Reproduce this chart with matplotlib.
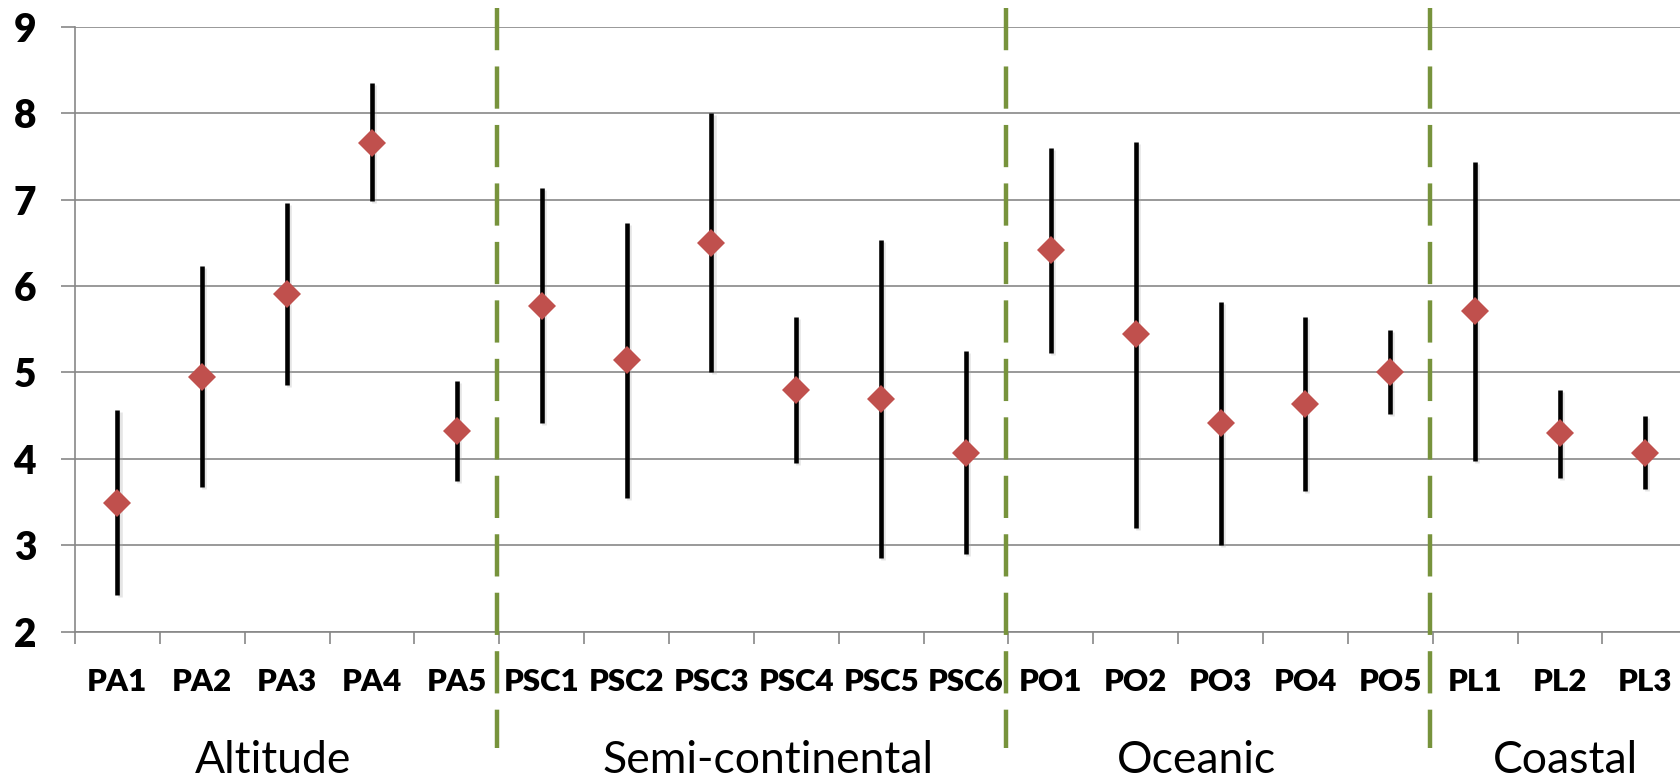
import matplotlib
matplotlib.use('Agg')
import matplotlib.pyplot as plt
import matplotlib.patheffects as pe
from matplotlib.transforms import blended_transform_factory

plt.rcParams['font.family'] = ['Lato', 'DejaVu Sans']
plt.rcParams['lines.scale_dashes'] = False

# stations, grouped by climate zone
stations = ['PA1', 'PA2', 'PA3', 'PA4', 'PA5',
            'PSC1', 'PSC2', 'PSC3', 'PSC4', 'PSC5', 'PSC6',
            'PO1', 'PO2', 'PO3', 'PO4', 'PO5',
            'PL1', 'PL2', 'PL3']
groups = ['Altitude', 'Semi-continental', 'Oceanic', 'Coastal']
group_sizes = [5, 6, 5, 3]

# mean value and min/max range per station
mean_vals = [3.49, 4.95, 5.91, 7.66, 4.32,
             5.77, 5.14, 6.50, 4.80, 4.69, 4.07,
             6.42, 5.44, 4.41, 4.64, 5.00,
             5.71, 4.30, 4.07]
low_vals = [2.42, 3.67, 4.86, 6.98, 3.74,
            4.41, 3.55, 5.01, 3.95, 2.85, 2.90,
            5.23, 3.20, 3.00, 3.63, 4.52,
            3.98, 3.78, 3.65]
high_vals = [4.57, 6.23, 6.96, 8.35, 4.90,
             7.13, 6.73, 8.00, 5.64, 6.53, 5.25,
             7.60, 7.67, 5.82, 5.64, 5.49,
             7.44, 4.80, 4.50]

grey = '#878787'

fig = plt.figure(figsize=(16.81, 7.78), dpi=100)
ax = fig.add_axes([0.04462, 0.18805, 0.9591, 0.7776])

x = list(range(len(stations)))
yerr = [[m - lo for m, lo in zip(mean_vals, low_vals)],
        [hi - m for m, hi in zip(mean_vals, high_vals)]]
markers, caps, bars = ax.errorbar(x, mean_vals, yerr=yerr, fmt='D', color='#c0504d',
                                  markersize=14.2, markeredgewidth=0,
                                  ecolor='black', elinewidth=3.3, capsize=0, zorder=3)
for b in bars:
    b.set_capstyle('butt')
    b.set_path_effects([pe.SimpleLineShadow(offset=(1.5, -1.5), shadow_color='#aaaaaa', alpha=0.3),
                        pe.Normal()])

ax.set_xlim(-0.5, len(stations) - 0.5)
ax.set_ylim(2, 9)
ax.set_yticks(range(2, 10))
ax.yaxis.grid(True, color=grey, lw=1.2)
ax.set_axisbelow(True)

for side in ['top', 'right']:
    ax.spines[side].set_visible(False)
for side in ['left', 'bottom']:
    ax.spines[side].set_color(grey)
    ax.spines[side].set_linewidth(1.2)

# labels sit at the centres, tick marks at the boundaries
ax.set_xticks(x)
ax.set_xticklabels(stations, fontsize=22.5, fontweight='heavy')
ax.set_xticks([i - 0.5 for i in range(len(stations) + 1)], minor=True)
ax.tick_params(axis='x', which='major', length=0, pad=26)
ax.tick_params(axis='x', which='minor', length=8.6, width=1.2, color=grey, direction='out')
ax.tick_params(axis='y', length=10, width=1.2, color=grey, pad=18, labelsize=28)
for lab in ax.get_yticklabels():
    lab.set_fontweight('heavy')

# dashed separators between climate zones
trans = blended_transform_factory(ax.transData, ax.transAxes)
edges = []
total = 0
for n in group_sizes[:-1]:
    total += n
    edges.append(total - 0.5)
for e in edges:
    ax.plot([e - 0.03, e - 0.03], [1.0304, -0.1927], transform=trans, clip_on=False,
            color='#77933c', lw=3.2, dashes=(30.4, 11.7), solid_capstyle='butt',
            dash_capstyle='butt', zorder=4)

# zone names under the station labels
label_x = [1.83, 7.67, 12.71, 17.07]
ftrans = blended_transform_factory(ax.transData, fig.transFigure)
for g, gx in zip(groups, label_x):
    ax.text(gx, 0.0064, g, transform=ftrans, ha='center', va='baseline', fontsize=32)

fig.savefig('out.png', dpi=100)
